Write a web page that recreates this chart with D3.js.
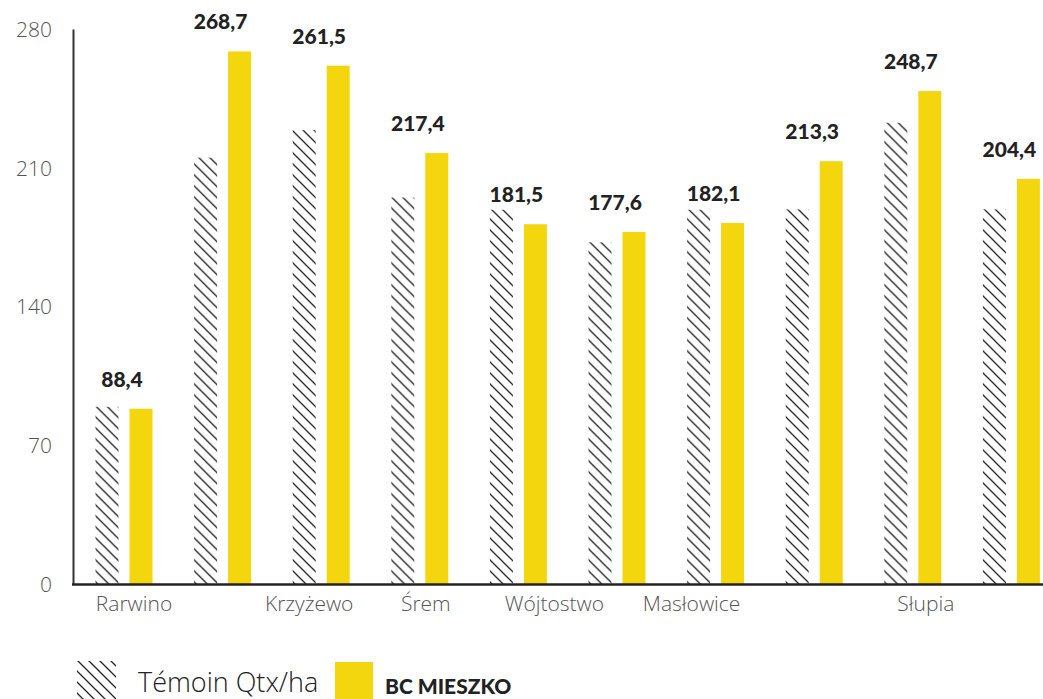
<!DOCTYPE html>
<html>
<head>
<meta charset="utf-8">
<script src="https://cdn.jsdelivr.net/npm/d3@7"></script>
<style>
  body { margin: 0; background: #fff; }
  svg { display: block; }
  .tick-label { font-family: "Open Sans", sans-serif; font-weight: 300; font-size: 21px; fill: #555; }
  .cat-label { font-family: "Open Sans", sans-serif; font-weight: 300; font-size: 21px; fill: #555; }
  .val-label { font-family: "Lato", sans-serif; font-weight: 900; font-size: 21px; fill: #222; }
</style>
</head>
<body>
<svg id="chart" width="1043" height="699"></svg>
<script>
//////////////////////////////////////
// Data

var groups = ['g1','g2','g3','g4','g5','g6','g7','g8','g9','g10']
var series = ['temoin','mieszko']
var temoin = [89.4, 215.1, 229.0, 195.0, 188.8, 172.4, 188.8, 189.0, 232.7, 189.0]
var mieszko = [88.4, 268.7, 261.5, 217.4, 181.5, 177.6, 182.1, 213.3, 248.7, 204.4]
var valueLabels = ['88,4','268,7','261,5','217,4','181,5','177,6','182,1','213,3','248,7','204,4']
var catNames = ['Rarwino','','Krzyżewo','Śrem','Wójtostwo','','Masłowice','','Słupia','']
var yTicks = [0, 70, 140, 210, 280]
var legendNames = ['Témoin Qtx/ha','BC MIESZKO']

// label nudges (labels in the source are not centred on groups)
var catShift = [10, 0, -12, 6, 36, 0, -24, 0, 13, 0]

//////////////////////////////////////
// Scales

const svg = d3.select('#chart')
const yellow = '#F4D60E'
const axisLeft = 73
const baseY = 584

var x0 = d3.scaleBand().domain(groups).range([74.7, 1060.7]).padding(0)
var x1 = d3.scaleBand().domain(series).range([20.8, 77.8]).paddingInner(0.3235).paddingOuter(0)
var y = d3.scaleLinear().domain([0, 280]).range([baseY, 29])

// hatch pattern
var defs = svg.append('defs')
var pat = defs.append('pattern')
  .attr('id', 'hatch')
  .attr('patternUnits', 'userSpaceOnUse')
  .attr('width', 11).attr('height', 11)
pat.append('path')
  .attr('d', 'M-3,-3 L14,14 M-3,8 L3,14 M8,-3 L14,3')
  .attr('stroke', '#222').attr('stroke-width', 1.3)

//////////////////////////////////////
// Bars

var g = svg.append('g')
var rows = groups.map(function(k, i) {
  return {key: k, vals: [{s: 'temoin', v: temoin[i]}, {s: 'mieszko', v: mieszko[i]}]}
})

var grp = g.selectAll('.grp').data(rows).enter().append('g')
  .attr('class', 'grp')
  .attr('transform', function(d) { return 'translate(' + x0(d.key) + ',0)' })

grp.selectAll('rect').data(function(d) { return d.vals }).enter().append('rect')
  .attr('x', function(d) { return x1(d.s) })
  .attr('width', x1.bandwidth())
  .attr('y', function(d) { return y(d.v) })
  .attr('height', function(d) { return y(0) - y(d.v) })
  .attr('fill', function(d) { return d.s == 'temoin' ? 'url(#hatch)' : yellow })

// value labels
g.selectAll('.val-label').data(groups).enter().append('text')
  .attr('class', 'val-label')
  .attr('text-anchor', 'middle')
  .attr('x', function(d) { return x0(d) + x0.bandwidth() / 2 - 2 })
  .attr('y', function(d, i) { return y(mieszko[i]) - 22 })
  .text(function(d, i) { return valueLabels[i] })

//////////////////////////////////////
// Axes

var yAxis = svg.append('g')
  .attr('transform', 'translate(' + axisLeft + ',0)')
  .call(d3.axisLeft(y).tickValues(yTicks).tickSize(0).tickPadding(21))
yAxis.select('.domain').attr('stroke', '#333').attr('stroke-width', 2)
yAxis.selectAll('text').attr('class', 'tick-label').attr('dy', '0.35em')
  .attr('font-size', null).attr('font-family', null).attr('fill', null)

svg.append('line')
  .attr('x1', axisLeft - 1).attr('x2', 1043)
  .attr('y1', baseY + 0.5).attr('y2', baseY + 0.5)
  .attr('stroke', '#222').attr('stroke-width', 2.5)

svg.selectAll('.cat-label').data(groups).enter().append('text')
  .attr('class', 'cat-label')
  .attr('text-anchor', 'middle')
  .attr('x', function(d, i) { return x0(d) + x0.bandwidth() / 2 + catShift[i] })
  .attr('y', 611)
  .text(function(d, i) { return catNames[i] })

//////////////////////////////////////
// Legend

var leg = svg.append('g')
leg.append('rect').attr('x', 77).attr('y', 661).attr('width', 39).attr('height', 40).attr('fill', 'url(#hatch)')
leg.append('text').attr('x', 138).attr('y', 692)
  .style('font-family', '"Open Sans", sans-serif').style('font-weight', 300)
  .style('font-size', '27px').style('fill', '#222')
  .text(legendNames[0])
leg.append('rect').attr('x', 335).attr('y', 662).attr('width', 38).attr('height', 40).attr('fill', yellow)
leg.append('text').attr('x', 385).attr('y', 694)
  .style('font-family', '"Lato", sans-serif').style('font-weight', 900)
  .style('font-size', '21px').style('fill', '#222')
  .text(legendNames[1])
</script>
</body>
</html>
